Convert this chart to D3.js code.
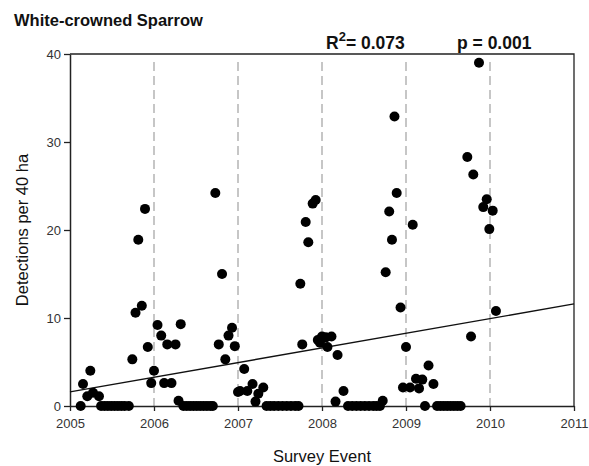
<!DOCTYPE html>
<html lang="en">
<head>
    <meta charset="utf-8"/>
    <title>White-crowned Sparrow</title>
    <script src="https://d3js.org/d3.v7.min.js"></script>
    <style>
        body { margin: 0; background: #fff; }
        svg { font-family: "Liberation Sans", Arial, sans-serif; }
    </style>
</head>
<body>
<svg id="chart" width="589" height="466"></svg>

<script>
    // survey events (decimal year) and detections per 40 ha
    const surveyYears = [
        2005.127, 2005.155, 2005.206, 2005.242, 2005.274, 2005.345,
        2005.37, 2005.41, 2005.45, 2005.49, 2005.53, 2005.57, 2005.61, 2005.65, 2005.70,
        2005.742, 2005.780, 2005.813, 2005.855, 2005.893, 2005.926, 2005.967,
        2006.000, 2006.042, 2006.086, 2006.121, 2006.158, 2006.208, 2006.256, 2006.292, 2006.318,
        2006.35, 2006.39, 2006.43, 2006.47, 2006.51, 2006.55, 2006.59, 2006.63, 2006.67, 2006.70,
        2006.730, 2006.771, 2006.810, 2006.849, 2006.887, 2006.929, 2006.962,
        2007.000, 2007.024, 2007.074, 2007.111, 2007.173, 2007.208, 2007.242, 2007.301,
        2007.34, 2007.385, 2007.43, 2007.48, 2007.53, 2007.58, 2007.63, 2007.68, 2007.72,
        2007.742, 2007.765, 2007.806, 2007.837, 2007.889, 2007.925, 2007.950, 2007.976,
        2008.000, 2008.045, 2008.065, 2008.113, 2008.161, 2008.185, 2008.256,
        2008.31, 2008.36, 2008.41, 2008.46, 2008.51, 2008.56, 2008.61, 2008.65, 2008.69, 2008.723,
        2008.758, 2008.800, 2008.833, 2008.863, 2008.889, 2008.935, 2008.964,
        2009.000, 2009.048, 2009.080, 2009.119, 2009.155, 2009.194, 2009.226, 2009.268, 2009.327,
        2009.37, 2009.41, 2009.45, 2009.49, 2009.53, 2009.57, 2009.61, 2009.65,
        2009.730, 2009.774, 2009.801, 2009.869, 2009.920, 2009.961, 2009.992,
        2010.032, 2010.071
    ];
    const detections = [
        0, 2.5, 1.1, 4.0, 1.5, 1.1,
        0, 0, 0, 0, 0, 0, 0, 0, 0,
        5.3, 10.6, 18.9, 11.4, 22.4, 6.7, 2.6,
        4.0, 9.2, 8.0, 2.6, 7.0, 2.6, 7.0, 0.6, 9.3,
        0, 0, 0, 0, 0, 0, 0, 0, 0, 0,
        24.2, 7.0, 15.0, 5.3, 8.0, 8.9, 6.8,
        1.6, 1.7, 4.2, 1.7, 2.5, 0.5, 1.4, 2.1,
        0, 0, 0, 0, 0, 0, 0, 0, 0,
        13.9, 7.0, 20.9, 18.6, 23.0, 23.4, 7.5, 7.2,
        7.9, 7.8, 6.7, 7.9, 0.5, 5.8, 1.7,
        0, 0, 0, 0, 0, 0, 0, 0, 0, 0.6,
        15.2, 22.1, 18.9, 32.9, 24.2, 11.2, 2.1,
        6.7, 2.1, 20.6, 3.1, 2.0, 3.0, 0, 4.6, 2.5,
        0, 0, 0, 0, 0, 0, 0, 0,
        28.3, 7.9, 26.3, 39.0, 22.6, 23.5, 20.1,
        22.2, 10.8
    ];

    // fitted regression line (ends)
    const fitYears = [2005, 2011];
    const fitValues = [1.6, 11.6];

    const xTicks = [2005, 2006, 2007, 2008, 2009, 2010, 2011];
    const yTicks = [0, 10, 20, 30, 40];
    const yearLines = [2006, 2007, 2008, 2009, 2010];

    const svg = d3.select("#chart");

    const margin = {left: 70, right: 15, top: 54, bottom: 60};
    const width = 589, height = 466;

    const x = d3.scaleLinear()
        .domain([2005, 2011])
        .range([margin.left, width - margin.right]);

    const y = d3.scaleLinear()
        .domain([0, 40])
        .range([height - margin.bottom, margin.top]);

    // linea punteada en cada año
    svg.selectAll("line.year")
        .data(yearLines).enter()
        .append("line")
        .attr("class", "year")
        .attr("x1", d => x(d)).attr("x2", d => x(d))
        .attr("y1", y(40) + 8).attr("y2", y(0))
        .attr("stroke", "#b4b4b4")
        .attr("stroke-width", 1.5)
        .attr("stroke-dasharray", "9,5");

    // marco arriba y a la derecha
    svg.append("path")
        .attr("d", `M${x(2005)},${y(40)}H${x(2011)}V${y(0)}`)
        .attr("fill", "none")
        .attr("stroke", "#222")
        .attr("stroke-width", 1.3);

    const xAxis = svg.append("g")
        .attr("transform", `translate(0,${y(0)})`)
        .call(d3.axisBottom(x).tickValues(xTicks).tickFormat(d3.format("d")).tickSize(5).tickSizeOuter(0));

    const yAxis = svg.append("g")
        .attr("transform", `translate(${x(2005)},0)`)
        .call(d3.axisLeft(y).tickValues(yTicks).tickSize(6).tickSizeOuter(0));

    [xAxis, yAxis].forEach(a => {
        a.select(".domain").attr("stroke", "#222").attr("stroke-width", 1.5);
        a.selectAll(".tick line").attr("stroke", "#222").attr("stroke-width", 1.3);
        a.selectAll(".tick text")
            .style("font-size", "13px")
            .style("font-family", "'Liberation Sans', Arial, sans-serif")
            .attr("fill", "#333");
    });
    xAxis.selectAll(".tick text").attr("dy", "1.05em");
    yAxis.selectAll(".tick text").attr("x", -9);

    // recta de regresion
    svg.append("line")
        .attr("x1", x(fitYears[0])).attr("y1", y(fitValues[0]))
        .attr("x2", x(fitYears[1])).attr("y2", y(fitValues[1]))
        .attr("stroke", "#111")
        .attr("stroke-width", 1.4);

    // puntos
    svg.selectAll("circle")
        .data(surveyYears).enter()
        .append("circle")
        .attr("cx", d => x(d))
        .attr("cy", (d, i) => y(detections[i]))
        .attr("r", 5)
        .attr("fill", "#000");

    // textos
    svg.append("text")
        .attr("x", 14).attr("y", 26)
        .style("font-size", "16.5px").style("font-weight", "bold")
        .attr("fill", "#111")
        .text("White-crowned Sparrow");

    const r2 = svg.append("text")
        .attr("x", 326).attr("y", 49)
        .style("font-size", "17.5px").style("font-weight", "bold")
        .attr("fill", "#111");
    r2.append("tspan").text("R");
    r2.append("tspan").attr("dy", -8).style("font-size", "13px").text("2");
    r2.append("tspan").attr("dy", 8).text("= 0.073");

    svg.append("text")
        .attr("x", 457).attr("y", 49)
        .style("font-size", "17.5px").style("font-weight", "bold")
        .attr("fill", "#111")
        .text("p = 0.001");

    svg.append("text")
        .attr("x", (x(2005) + x(2011)) / 2).attr("y", 462)
        .attr("text-anchor", "middle")
        .style("font-size", "16.5px")
        .attr("fill", "#111")
        .text("Survey Event");

    svg.append("text")
        .attr("transform", `translate(28,${(y(0) + y(40)) / 2}) rotate(-90)`)
        .attr("text-anchor", "middle")
        .style("font-size", "16.5px")
        .attr("fill", "#111")
        .text("Detections per 40 ha");
</script>
</body>
</html>
